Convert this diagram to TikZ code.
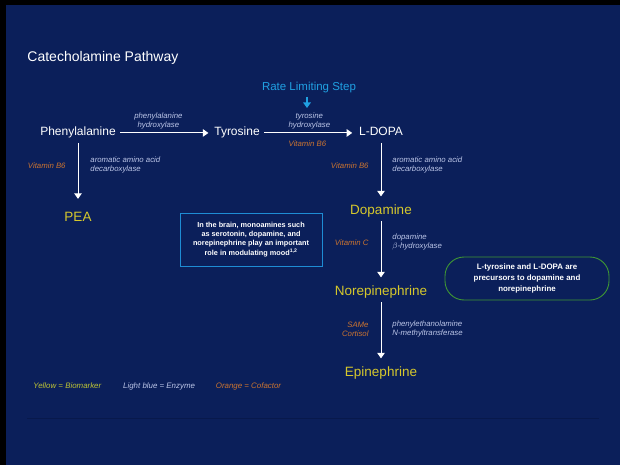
\documentclass[tikz,border=0pt]{standalone}
\usepackage{fontspec}
\setmainfont{Liberation Sans}
\usetikzlibrary{arrows.meta, positioning}

\definecolor{slidebg}{RGB}{11,31,90}
\definecolor{ruleline}{RGB}{8,25,76}
\definecolor{bioyellow}{RGB}{214,200,44}
\definecolor{legendyellow}{RGB}{190,196,52}
\definecolor{enzblue}{RGB}{188,198,232}
\definecolor{coforange}{RGB}{204,116,48}
\definecolor{rateblue}{RGB}{32,160,226}
\definecolor{boxblue}{RGB}{30,140,212}
\definecolor{boxgreen}{RGB}{62,150,52}

\tikzset{
  chem/.style={text=white, font=\fontsize{12}{14}\selectfont, text height=8.6pt, text depth=2.5pt, inner sep=1.5pt},
  marker/.style={chem, text=bioyellow, font=\fontsize{13.5}{16}\selectfont, text height=9.7pt, text depth=2.8pt},
  enzyme/.style={text=enzblue, font=\fontsize{7.8}{9}\selectfont\itshape, inner sep=0pt, align=left},
  cofactor/.style={enzyme, text=coforange, align=right},
  note/.style={text=white, font=\fontsize{7.3}{9.1}\selectfont\bfseries, align=center},
  legend/.style={font=\fontsize{7.9}{9}\selectfont\itshape, inner sep=0pt}
}

\begin{document}
\begin{tikzpicture}[x=1pt, y=-1pt, line width=0.9pt,
  reaction/.style={white, -{Triangle[width=7.5pt,length=5.5pt]}, shorten <=2.5pt, shorten >=6pt}]
\useasboundingbox (0,0) rectangle (620,465);
\fill[black] (0,0) rectangle (620,465);
\fill[slidebg] (6,5) rectangle (620,465);
\draw[ruleline, line width=0.6pt] (27,418) -- (599,418);

\node[anchor=base west, text=white, font=\fontsize{14}{16}\selectfont, inner sep=0pt] (title) at (27,62) {Catecholamine Pathway};
\node[anchor=base, text=rateblue, font=\fontsize{11.5}{13}\selectfont, inner sep=0pt] (rate) at (309,91) {Rate Limiting Step};
\coordinate (ratetip) at (307,108);
\draw[rateblue, line width=1.3pt, -{Triangle[width=7.5pt,length=5.5pt]}, shorten <=3pt] (rate.south -| ratetip) -- (ratetip);

% pathway
\node[chem, anchor=base] (phe) at (78,136) {Phenylalanine};
\node[chem, anchor=base] (tyr) at (237,136) {Tyrosine};
\node[chem, anchor=base] (ldopa) at (381,136) {L-DOPA};
\node[marker, anchor=base] (pea) at (78,221.5) {PEA};
\node[marker, anchor=base] (dopa) at (381,214) {Dopamine};
\node[marker, anchor=base] (nor) at (381,295) {Norepinephrine};
\node[marker, anchor=base] (epi) at (381,376) {Epinephrine};

\draw (phe) edge[reaction, shorten >=4pt] node[enzyme, align=center, above=3.5pt, pos=.43] {phenylalanine\\hydroxylase} (tyr);
\draw (tyr) edge[reaction, shorten >=5pt] node[enzyme, align=center, above=3.5pt] {tyrosine\\hydroxylase}
                                           node[cofactor, align=center, below=7.5pt, pos=.48] {Vitamin B6} (ldopa);
\draw (phe) edge[reaction, shorten >=11pt] node[enzyme, right=12pt, pos=.36] {aromatic amino acid\\decarboxylase}
                                            node[cofactor, left=12pt, pos=.37] {Vitamin B6} (pea);
\draw (ldopa) edge[reaction] node[enzyme, right=11pt, pos=.4] {aromatic amino acid\\decarboxylase}
                             node[cofactor, left=12pt, pos=.41] {Vitamin B6} (dopa);
\draw (dopa) edge[reaction] node[enzyme, right=11pt, pos=.36] {dopamine\\$\beta$-hydroxylase}
                            node[cofactor, left=12pt, pos=.37] {Vitamin C} (nor);
\draw (nor) edge[reaction] node[enzyme, right=11pt, pos=.46] {phenylethanolamine\\N-methyltransferase}
                           node[cofactor, left=12pt, pos=.46] {SAMe\\Cortisol} (epi);

% side notes
\node[note, draw=boxblue, minimum width=142pt, minimum height=53pt] (brainnote) at (251,239.5)
  {In the brain, monoamines such\\as serotonin, dopamine, and\\norepinephrine play an important\\role in modulating mood\textsuperscript{1,2}};
\node[note, draw=boxgreen, font=\fontsize{7.9}{11}\selectfont\bfseries, rounded corners=19pt,
      minimum width=164pt, minimum height=43pt] (precursor) at (527,278.5)
  {L-tyrosine and L-DOPA are\\precursors to dopamine and\\norepinephrine};

% key
\node[legend, anchor=base west, text=legendyellow] (keybio) at (33,388.7) {Yellow = Biomarker};
\node[legend, text=enzblue, base right=21pt of keybio] (keyenz) {Light blue = Enzyme};
\node[legend, text=coforange, base right=20pt of keyenz] (keycof) {Orange = Cofactor};
\end{tikzpicture}
\end{document}
